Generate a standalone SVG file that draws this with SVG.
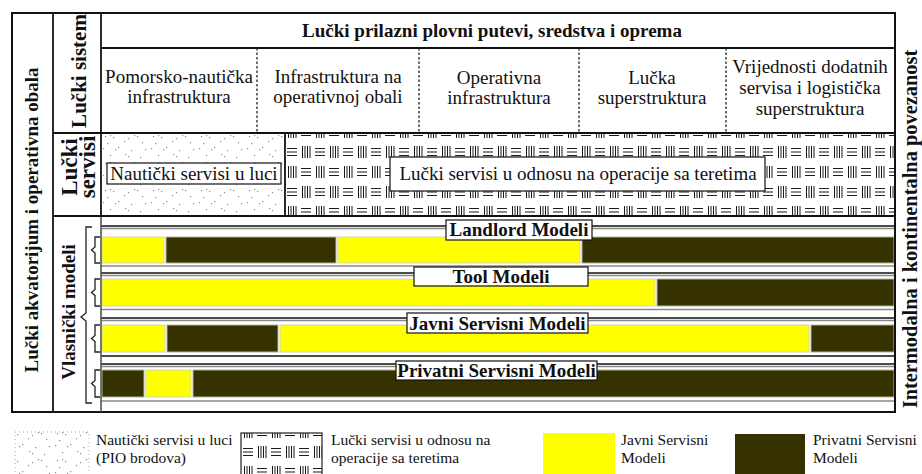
<svg xmlns="http://www.w3.org/2000/svg" width="922" height="474" viewBox="0 0 922 474">
<style>
text{font-family:"Liberation Serif","Times New Roman",serif;fill:#111}
.r{font-size:19px}
.b{font-size:19px;font-weight:bold}
.lg{font-size:15.5px}
.m{text-anchor:middle}
.frame{stroke:#111;stroke-width:2;fill:none}
.ln{stroke:#111;stroke-width:1.8;fill:none}
.dash{stroke:#222;stroke-width:1.3;stroke-dasharray:2.5 2}
.gl{stroke:#8a8a8a;stroke-width:1.3}
.bl{stroke:#111;stroke-width:1.4}
.y{fill:#ffff00;stroke:#d6d6b4;stroke-width:1}
.d{fill:#353200;stroke:#b4b49c;stroke-width:1}
.lab{fill:#fff;stroke:#111;stroke-width:1.2}
.br{fill:none;stroke:#222;stroke-width:1.3}
.hp{stroke:#1a1a1a;stroke-width:1;fill:none}
</style>
<defs>
<pattern id="dots" width="48" height="27" patternUnits="userSpaceOnUse" x="101" y="133">
<rect width="48" height="27" fill="#fff"/>
<g fill="#8c8c8c">
<rect x="4" y="3" width="1.2" height="1.2"/><rect x="9" y="2" width="1.2" height="1.2"/><rect x="12" y="4" width="1.2" height="1.2"/>
<rect x="27" y="5" width="1.2" height="1.2"/><rect x="33" y="2" width="1.2" height="1.2"/><rect x="36" y="3" width="1.2" height="1.2"/>
<rect x="6" y="10" width="1.2" height="1.2"/><rect x="23" y="8" width="1.2" height="1.2"/><rect x="41" y="9" width="1.2" height="1.2"/>
<rect x="2" y="15" width="1.2" height="1.2"/><rect x="14" y="16" width="1.2" height="1.2"/><rect x="17" y="14" width="1.2" height="1.2"/>
<rect x="30" y="17" width="1.2" height="1.2"/><rect x="44" y="16" width="1.2" height="1.2"/><rect x="9" y="22" width="1.2" height="1.2"/>
<rect x="24" y="21" width="1.2" height="1.2"/><rect x="27" y="23" width="1.2" height="1.2"/><rect x="39" y="24" width="1.2" height="1.2"/>
</g>
</pattern>
<pattern id="hatch" width="28" height="40" patternUnits="userSpaceOnUse" x="285" y="122">
<rect width="28" height="40" fill="#fff"/>
<path class="hp" d="M3.5 4V16M6 4V16M8.5 4V16M11 4V16M16 6.5H26M16 10H26M16 13.5H26M2 26.5H12M2 30H12M2 33.5H12M17.5 24V36M20 24V36M22.5 24V36M25 24V36"/>
</pattern>
<pattern id="hatch2" width="28" height="40" patternUnits="userSpaceOnUse" x="241" y="422">
<rect width="28" height="40" fill="#fff"/>
<path class="hp" d="M3.5 4V16M6 4V16M8.5 4V16M11 4V16M16 6.5H26M16 10H26M16 13.5H26M2 26.5H12M2 30H12M2 33.5H12M17.5 24V36M20 24V36M22.5 24V36M25 24V36"/>
</pattern>
</defs>

<rect width="922" height="474" fill="#fff"/>

<g id="servisi-fills">
<rect x="101" y="133" width="184" height="83" fill="url(#dots)"/>
<rect x="285" y="133" width="610" height="83" fill="url(#hatch)"/>
</g>

<g id="bands">
<g id="band-landlord">
<line class="bl" x1="101" y1="226" x2="895" y2="226"/>
<line class="gl" x1="101" y1="228.5" x2="895" y2="228.5"/>
<rect class="y" x="102" y="237" width="62" height="26"/>
<rect class="d" x="166" y="237" width="170" height="26"/>
<rect class="y" x="338" y="237" width="242" height="26"/>
<rect class="d" x="582" y="237" width="312" height="26"/>
<line class="gl" x1="101" y1="266" x2="895" y2="266"/>
</g>
<g id="band-tool">
<line class="bl" x1="101" y1="273" x2="895" y2="273"/>
<line class="gl" x1="101" y1="275.5" x2="895" y2="275.5"/>
<rect class="y" x="102" y="279" width="553" height="27"/>
<rect class="d" x="657" y="279" width="237" height="27"/>
<line class="gl" x1="101" y1="309.5" x2="895" y2="309.5"/>
</g>
<g id="band-javni">
<line class="bl" x1="101" y1="318" x2="895" y2="318"/>
<line class="gl" x1="101" y1="320.5" x2="895" y2="320.5"/>
<rect class="y" x="102" y="325" width="63" height="27"/>
<rect class="d" x="167" y="325" width="111" height="27"/>
<rect class="y" x="280" y="325" width="529" height="27"/>
<rect class="d" x="811" y="325" width="83" height="27"/>
<line class="bl" x1="101" y1="356" x2="895" y2="356"/>
</g>
<g id="band-privatni">
<line class="bl" x1="101" y1="364" x2="895" y2="364"/>
<line class="gl" x1="101" y1="366.5" x2="895" y2="366.5"/>
<rect class="d" x="102" y="370" width="42" height="27"/>
<rect class="y" x="146" y="370" width="45" height="27"/>
<rect class="d" x="193" y="370" width="701" height="27"/>
<line class="gl" x1="101" y1="401" x2="895" y2="401"/>
</g>
</g>

<g id="grid">
<rect class="frame" x="12" y="13" width="883" height="399"/>
<line class="ln" x1="53" y1="13" x2="53" y2="412"/>
<line class="ln" x1="101" y1="13" x2="101" y2="216"/>
<line x1="101" y1="216" x2="101" y2="412" stroke="#555" stroke-width="1.6"/>
<line class="ln" x1="101" y1="48" x2="895" y2="48"/>
<line class="ln" x1="53" y1="133" x2="895" y2="133"/>
<line x1="53" y1="216" x2="895" y2="216" stroke="#111" stroke-width="2.2"/>
<line class="ln" x1="285" y1="133" x2="285" y2="216"/>
<line class="dash" x1="257" y1="48" x2="257" y2="133"/>
<line class="dash" x1="419" y1="48" x2="419" y2="133"/>
<line class="dash" x1="579" y1="48" x2="579" y2="133"/>
<line class="dash" x1="726" y1="48" x2="726" y2="133"/>
</g>

<g id="side-labels">
<text class="b m" transform="translate(38,220) rotate(-90)">Lučki akvatorijum i operativna obala</text>
<text class="m" transform="translate(86,71) rotate(-90)" style="font-size:21px;font-weight:bold">Lučki sistem</text>
<text class="m" transform="translate(77,167) rotate(-90)" style="font-size:23px;font-weight:bold">Lučki</text>
<text class="m" transform="translate(95,167) rotate(-90)" style="font-size:23px;font-weight:bold">servisi</text>
<text class="b m" transform="translate(75,312) rotate(-90)">Vlasnički modeli</text>
<text class="m" transform="translate(917,229) rotate(-90)" style="font-size:20.4px;font-weight:bold">Intermodalna i kontinentalna povezanost</text>
</g>

<g id="header">
<text class="b m" x="492" y="37">Lučki prilazni plovni putevi, sredstva i oprema</text>
</g>
<g id="col-pomorsko"><text class="r m" x="179" y="83">Pomorsko-nautička</text><text class="r m" x="179" y="103">infrastruktura</text></g>
<g id="col-obala"><text class="r m" x="338" y="83">Infrastruktura na</text><text class="r m" x="338" y="103">operativnoj obali</text></g>
<g id="col-operativna"><text class="r m" x="499" y="84">Operativna</text><text class="r m" x="499" y="104">infrastruktura</text></g>
<g id="col-superstruktura"><text class="r m" x="652" y="84">Lučka</text><text class="r m" x="652" y="104">superstruktura</text></g>
<g id="col-vrijednosti"><text class="r m" x="810" y="73">Vrijednosti dodatnih</text><text class="r m" x="810" y="94">servisa i logistička</text><text class="r m" x="810" y="115">superstruktura</text></g>

<g id="nauticki">
<rect class="lab" x="107" y="163" width="174" height="21"/>
<text class="r m" x="194" y="180">Nautički servisi u luci</text>
</g>
<g id="lucki-servisi">
<rect class="lab" x="390" y="157" width="375" height="34"/>
<text class="r m" x="578" y="180">Lučki servisi u odnosu na operacije sa teretima</text>
</g>

<g id="label-landlord"><rect class="lab" x="446" y="220" width="146" height="20"/><text class="b m" x="519" y="236">Landlord Modeli</text></g>
<g id="label-tool"><rect class="lab" x="414" y="267" width="174" height="19"/><text class="b m" x="501" y="283">Tool Modeli</text></g>
<g id="label-javni"><rect class="lab" x="407" y="313" width="181" height="20"/><text class="b m" x="497.5" y="330">Javni Servisni Modeli</text></g>
<g id="label-privatni"><rect class="lab" x="396" y="361" width="201" height="19"/><text class="b m" x="496.5" y="377">Privatni Servisni Modeli</text></g>

<g id="connectors">
<path class="br" d="M92 227H86V313L81 317L86 321V403H92"/>
<path class="br" d="M100 237H95V247L91.5 250L95 253V263H100"/>
<path class="br" d="M100 279H95V289.5L91.5 292.5L95 295.5V306H100"/>
<path class="br" d="M100 325H95V335.5L91.5 338.5L95 341.5V352H100"/>
<path class="br" d="M100 370H95V380.5L91.5 383.5L95 386.5V397H100"/>
</g>

<g id="legend">
<g id="legend-nauticki">
<rect x="15" y="432" width="74" height="46" fill="url(#dots)" stroke="#aaa" stroke-width="1" stroke-dasharray="1 3"/>
<text class="lg" x="96" y="445">Nautički servisi u luci</text>
<text class="lg" x="96" y="463">(PIO brodova)</text>
</g>
<g id="legend-lucki">
<rect x="241" y="433" width="81" height="45" fill="url(#hatch2)" stroke="#222" stroke-width="1.2"/>
<text class="lg" x="331" y="445">Lučki servisi u odnosu na</text>
<text class="lg" x="331" y="463">operacije sa teretima</text>
</g>
<g id="legend-javni">
<rect x="543" y="433" width="72" height="45" fill="#ffff00"/>
<text class="lg" x="621" y="445">Javni Servisni</text>
<text class="lg" x="621" y="463">Modeli</text>
</g>
<g id="legend-privatni">
<rect x="735" y="434" width="70" height="44" fill="#353200"/>
<text class="lg" x="813" y="445">Privatni Servisni</text>
<text class="lg" x="813" y="463">Modeli</text>
</g>
</g>
</svg>
